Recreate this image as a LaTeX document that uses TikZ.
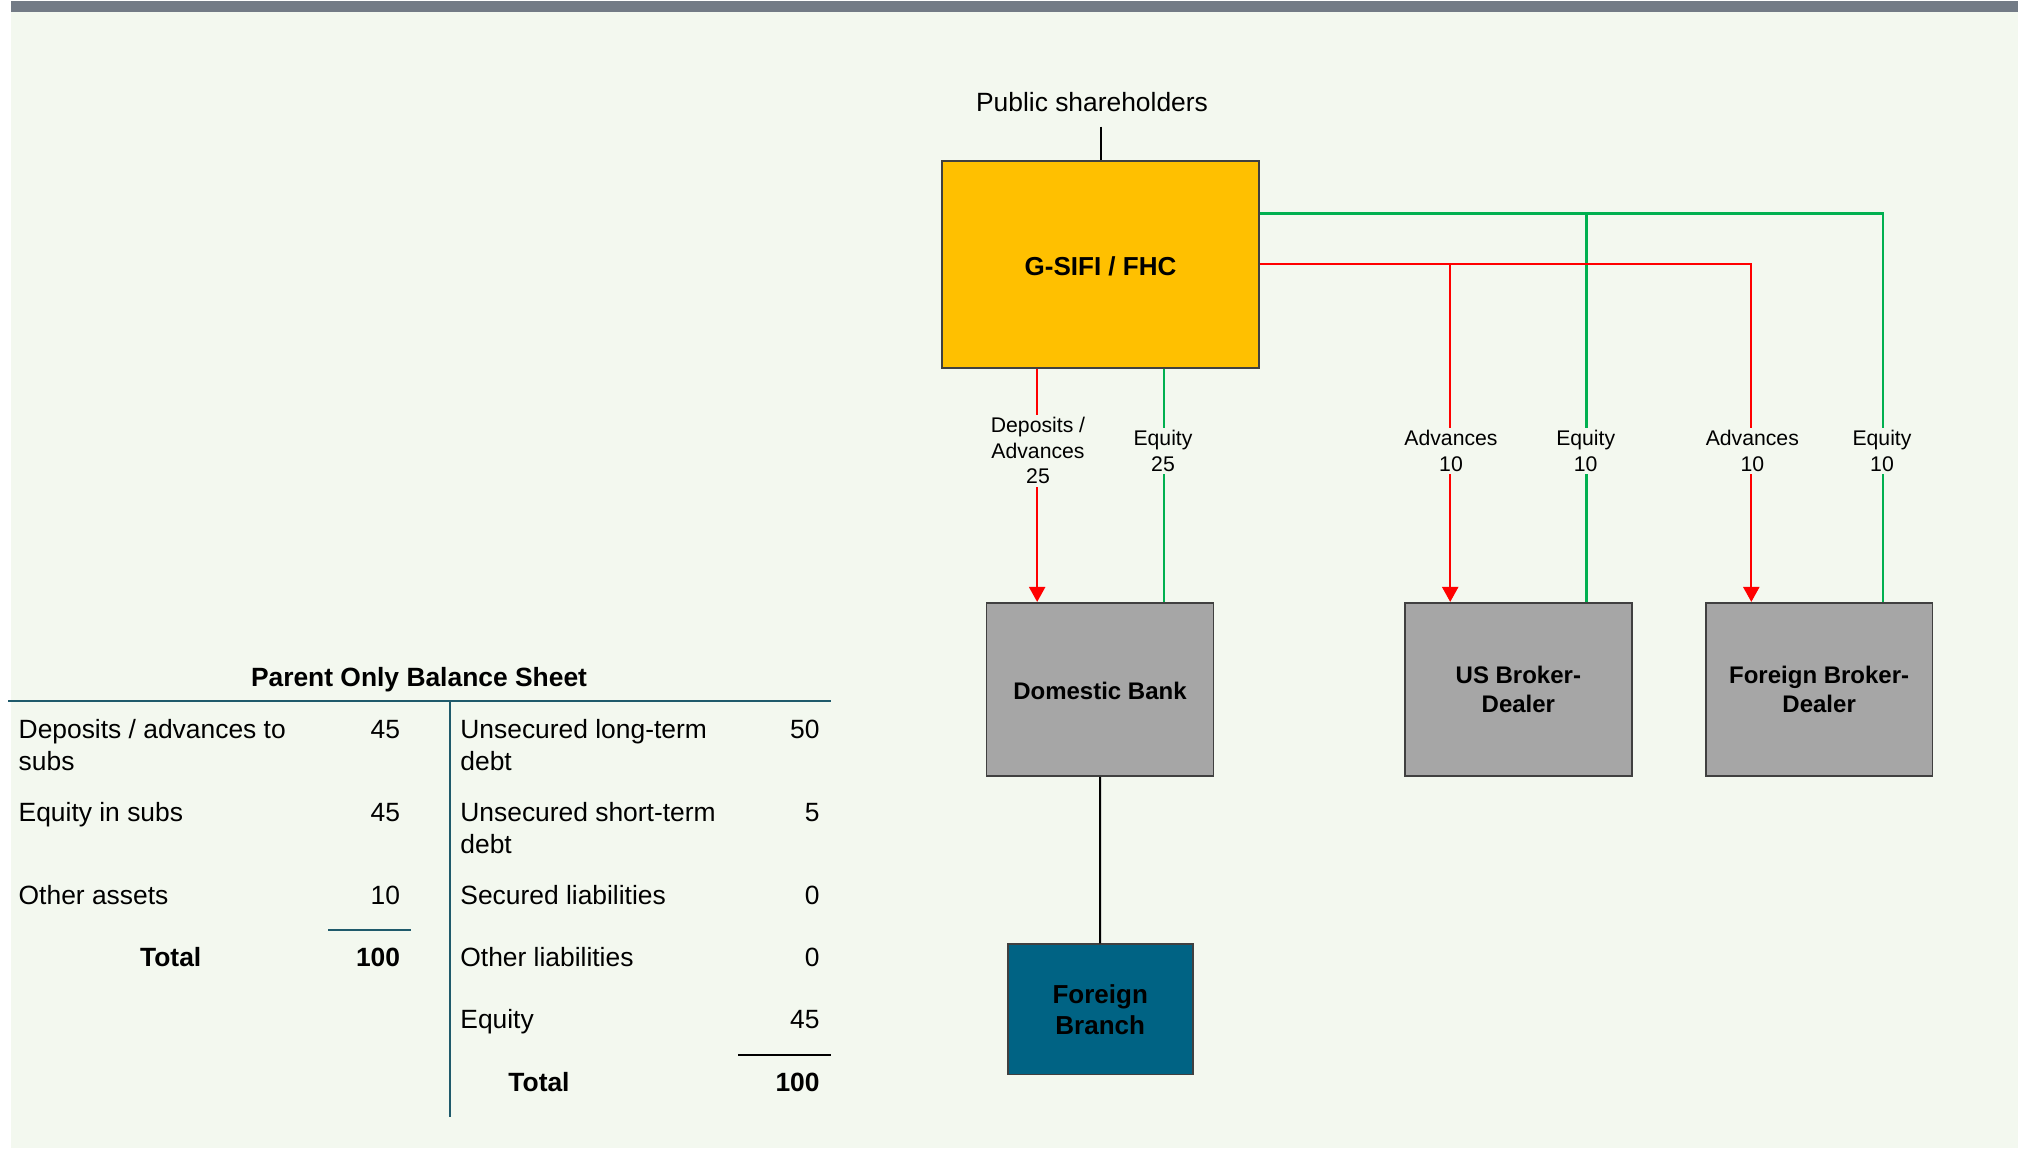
\documentclass[tikz,border=0pt]{standalone}
\usepackage{fontspec}
\setmainfont{Liberation Sans}
\usetikzlibrary{arrows.meta}
\definecolor{bgc}{HTML}{F3F8EF}
\definecolor{barc}{HTML}{737B86}
\definecolor{gold}{HTML}{FFC000}
\definecolor{boxgray}{HTML}{A6A6A6}
\definecolor{boxline}{HTML}{404040}
\definecolor{branchc}{HTML}{006384}
\definecolor{tealline}{HTML}{1F5A6B}
\definecolor{redc}{HTML}{FF0000}
\definecolor{greenc}{HTML}{00B050}
\newcommand\bsstrut{\rule{0pt}{12pt}}
\begin{document}
\begin{tikzpicture}[x=0.5pt,y=-0.5pt,
  entity/.style={draw=boxline, line width=0.8pt, inner sep=0pt, align=center,
    font=\bfseries\fontsize{12}{14.5}\selectfont},
  lbl/.style={fill=bgc, inner sep=1.5pt, align=center, font=\fontsize{10.6}{12.7}\selectfont},
  redarr/.style={draw=redc, line width=1.1pt, -{Triangle[length=7.5pt,width=8pt]}},
  grn/.style={draw=greenc, line width=1.1pt},
  blk/.style={draw=black, line width=1pt},
  bs/.style={inner sep=0pt, align=left, font=\fontsize{13.2}{16}\selectfont},
  bsb/.style={inner sep=0pt, align=left, font=\bfseries\fontsize{13.2}{16}\selectfont},
  rule/.style={draw=tealline, line width=1pt},
  rulek/.style={draw=black, line width=1pt}]
\useasboundingbox (0,0) rectangle (2023,1149);
\fill[bgc] (11,1) rectangle (2018,1148);
\fill[barc] (11,1) rectangle (2018,12);

% ---------- org chart ----------
\node[bs, anchor=base] (pub) at (1092,111.5) {Public shareholders};
\coordinate (pubfoot) at (1100.5,126.7);
\node[entity, fill=gold, minimum width=158.65pt, minimum height=103.35pt,
  text height=10.9pt, text depth=0pt,
  font=\bfseries\fontsize{13}{15.6}\selectfont] (gsifi) at (1100.5,264.4) {G-SIFI / FHC};
\node[entity, fill=boxgray, minimum width=113.35pt, minimum height=86.65pt,
  text height=9.9pt, text depth=0pt] (db) at (1100,689.4) {Domestic Bank};
\node[entity, fill=boxgray, minimum width=113.35pt, minimum height=86.65pt] (usbd) at (1518.35,689.4) {US Broker-\\Dealer};
\node[entity, fill=boxgray, minimum width=113.35pt, minimum height=86.65pt] (fbd) at (1819.15,689.4) {Foreign Broker-\\Dealer};
\node[entity, fill=branchc, minimum width=92.5pt, minimum height=65.15pt,
  font=\bfseries\fontsize{13}{15.5}\selectfont] (fb) at (1100.2,1009.2) {Foreign\\Branch};

\draw[blk] (pubfoot) -- (gsifi.north);
\draw[blk] (db.south) -- (fb.north);

% green equity lines
\draw[grn] ([yshift=-26.65pt]gsifi.north east) -| ([xshift=-23pt]usbd.north east);
\draw[grn] ([yshift=-26.65pt]gsifi.north east) -| ([xshift=-25.15pt]fbd.north east);
\draw[grn] ([xshift=-25.2pt]db.north east |- gsifi.south) -- ([xshift=-25.2pt]db.north east);
% red advances lines
\draw[redarr] ([xshift=25.65pt]db.north west |- gsifi.south) -- ([xshift=25.65pt]db.north west);
\draw[redarr] (gsifi.east) -| ([xshift=23pt]usbd.north west);
\draw[redarr] (gsifi.east) -| ([xshift=23.15pt]fbd.north west);

% labels on the lines
\node[lbl] (dlab) at (1038,450.7) {Deposits /\\Advances\\25};
\node[lbl] (elab1) at (1163,451) {Equity\\25};
\node[lbl] (alab1) at (1451,451) {Advances\\10};
\node[lbl] (elab2) at (1585.7,451) {Equity\\10};
\node[lbl] (alab2) at (1752.3,451) {Advances\\10};
\node[lbl] (elab3) at (1882,451) {Equity\\10};

% ---------- balance sheet ----------
\node[bsb, anchor=base] (title) at (419,686.8) {Parent Only Balance Sheet};
\coordinate (tl) at (8,701);
\coordinate (tr) at (830.7,701);
\coordinate (vt) at (450,701);
\coordinate (vb) at (450,1116.7);
\draw[rule] (tl) -- (tr);
\draw[rule] (vt) -- (vb);
\coordinate (sl1) at (328,930);
\coordinate (sl2) at (410.7,930);
\draw[rule] (sl1) -- (sl2);
\coordinate (sr1) at (738,1055);
\coordinate (sr2) at (830.7,1055);
\draw[rulek] (sr1) -- (sr2);

\node[bs, anchor=north west] (a1) at (18.3,713.8) {\bsstrut Deposits / advances to\\subs};
\node[bs, anchor=north east] (a1v) at (400.5,713.8) {\bsstrut 45};
\node[bs, anchor=north west] (a2) at (18.3,797.2) {\bsstrut Equity in subs};
\node[bs, anchor=north east] (a2v) at (400.5,797.2) {\bsstrut 45};
\node[bs, anchor=north west] (a3) at (18.3,879.8) {\bsstrut Other assets};
\node[bs, anchor=north east] (a3v) at (400.5,879.8) {\bsstrut 10};
\node[bsb, anchor=north] (at) at (170.7,942.2) {\bsstrut Total};
\node[bsb, anchor=north east] (atv) at (400.5,942.2) {\bsstrut 100};

\node[bs, anchor=north west] (l1) at (460,713.8) {\bsstrut Unsecured long-term\\debt};
\node[bs, anchor=north east] (l1v) at (820,713.8) {\bsstrut 50};
\node[bs, anchor=north west] (l2) at (460,797.2) {\bsstrut Unsecured short-term\\debt};
\node[bs, anchor=north east] (l2v) at (820,797.2) {\bsstrut 5};
\node[bs, anchor=north west] (l3) at (460,879.8) {\bsstrut Secured liabilities};
\node[bs, anchor=north east] (l3v) at (820,879.8) {\bsstrut 0};
\node[bs, anchor=north west] (l4) at (460,942.2) {\bsstrut Other liabilities};
\node[bs, anchor=north east] (l4v) at (820,942.2) {\bsstrut 0};
\node[bs, anchor=north west] (l5) at (460,1004.5) {\bsstrut Equity};
\node[bs, anchor=north east] (l5v) at (820,1004.5) {\bsstrut 45};
\node[bsb, anchor=north] (lt) at (539,1067.2) {\bsstrut Total};
\node[bsb, anchor=north east] (ltv) at (820,1067.2) {\bsstrut 100};
\end{tikzpicture}
\end{document}
